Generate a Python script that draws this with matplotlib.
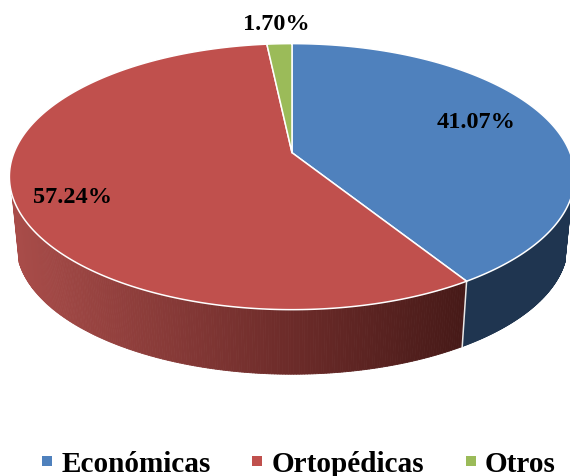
import numpy as np
import matplotlib
matplotlib.use("Agg")
import matplotlib.pyplot as plt
from matplotlib.collections import PolyCollection
from matplotlib.colors import LinearSegmentedColormap
from matplotlib.lines import Line2D
from matplotlib.patches import Polygon

categories = ["Económicas", "Ortopédicas", "Otros"]
values = [41.07, 57.24, 1.70]
labels = ["41.07%", "57.24%", "1.70%"]
label_xy = [(476, 122), (72, 198), (276, 25)]
colors = ["#4f81bd", "#c0504d", "#9bbb59"]

CX, CY, B, A, K = 292, 153.7, 278, 128.7, 0.18
S, D = 0.975, 68.5

plt.rcParams["font.family"] = ["Liberation Serif", "DejaVu Serif"]
fig = plt.figure(figsize=(5.7, 4.77), dpi=100)
ax = fig.add_axes([0, 0, 1, 1])
ax.set_xlim(0, 570)
ax.set_ylim(477, 0)
ax.axis("off")


def top(theta):
    """Project clockwise angle from 12 o'clock onto the tilted disc."""
    x, y = np.sin(theta), np.cos(theta)
    den = 1 + K * y
    return CX + B * x / den, CY - A * y / den


def bottom(theta):
    px, py = top(theta)
    return CX + (px - CX) * S, CY + (py - CY) * S + D


fracs = np.array(values) / np.sum(values)
edges = np.concatenate([[0], np.cumsum(fracs)]) * 2 * np.pi

red_wall = LinearSegmentedColormap.from_list(
    "red_wall", [(0, "#a84c49"), (0.6, "#6e2c2a"), (1, "#471a18")])


def wall(t0, t1, colour_of):
    ts = np.linspace(t0, t1, 220)
    polys, cols = [], []
    for a, b in zip(ts[:-1], ts[1:]):
        polys.append([top(a), top(b), bottom(b), bottom(a)])
        cols.append(colour_of(top((a + b) / 2)[0]))
    ax.add_collection(PolyCollection(polys, facecolors=cols, edgecolors=cols,
                                     linewidths=0.6, zorder=1))


wall(np.deg2rad(108), edges[1], lambda x: "#1f3550")
wall(edges[1], np.deg2rad(252),
     lambda x: red_wall(np.clip((x - 15) / (463 - 15), 0, 1)))

# seam between the two visible walls
ax.plot(*zip(top(edges[1]), bottom(edges[1])), color="#e8e8e8", lw=1.1, zorder=2)

# top surface
for i, c in enumerate(colors):
    ts = np.linspace(edges[i], edges[i + 1], 300)
    px, py = top(ts)
    pts = np.column_stack([np.r_[CX, px], np.r_[CY, py]])
    ax.add_patch(Polygon(pts, closed=True, facecolor=c, edgecolor="white",
                         linewidth=1.1, joinstyle="round", zorder=3))

for t, (x, y) in zip(labels, label_xy):
    ax.text(x, y, t, ha="center", va="center", fontsize=17.5,
            fontweight="bold", color="black", zorder=5)

handles = [Line2D([], [], linestyle="none", marker="s", markersize=6.8,
                  color=c, markeredgewidth=0) for c in colors]
ax.legend(handles, categories, loc="lower center", bbox_to_anchor=(0.521, -0.015),
          ncol=3, frameon=False, handlelength=0.6, handletextpad=0.17,
          columnspacing=1.3, borderpad=0.2, borderaxespad=0,
          prop={"size": 21.1, "weight": "bold"})

fig.savefig("out.png", dpi=100)
